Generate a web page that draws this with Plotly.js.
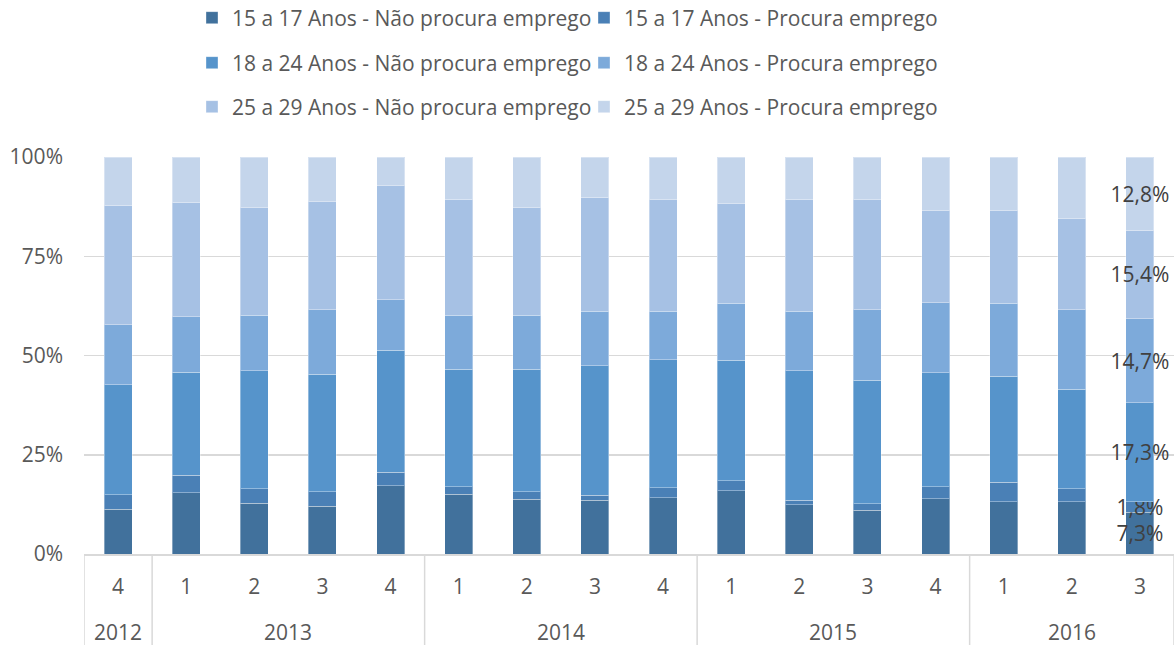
<!DOCTYPE html>
<html>
<head>
<meta charset="utf-8">
<script src="https://cdn.plot.ly/plotly-3.0.1.min.js"></script>
<style>html,body{margin:0;padding:0;background:#fff;}#chart{width:1176px;height:645px;}</style>
</head>
<body>
<div id="chart"></div>
<script>
const years    = ['2012','2013','2013','2013','2013','2014','2014','2014','2014','2015','2015','2015','2015','2016','2016','2016'];
const quarters = ['4','1','2','3','4','1','2','3','4','1','2','3','4','1','2','3'];

const seriesNames = [
  '15 a 17 Anos - Não procura emprego',
  '15 a 17 Anos - Procura emprego',
  '18 a 24 Anos - Não procura emprego',
  '18 a 24 Anos - Procura emprego',
  '25 a 29 Anos - Não procura emprego',
  '25 a 29 Anos - Procura emprego'
];

const s1517Nao = [11.3,15.4,12.8,12.0,17.2,15.0,13.8,13.6,14.2,15.9,12.4,11.0,13.9,13.2,13.2,7.3];
const s1517Pro = [3.6,4.4,3.7,3.7,3.4,2.0,1.9,1.2,2.5,2.6,1.2,1.6,3.1,4.9,3.2,1.8];
const s1824Nao = [27.7,26.0,29.7,29.6,30.7,29.5,30.9,32.6,32.2,30.3,32.6,31.2,28.6,26.7,25.1,17.3];
const s1824Pro = [15.1,14.0,14.0,16.2,12.7,13.7,13.6,13.8,12.2,14.4,15.0,17.7,17.7,18.3,20.0,14.7];
const s2529Nao = [30.2,28.8,27.0,27.2,28.7,29.2,27.0,28.7,28.1,25.0,28.1,27.7,23.1,23.4,22.9,15.4];
const s2529Pro = [12.1,11.4,12.8,11.3,7.3,10.6,12.8,10.1,10.8,11.8,10.7,10.8,13.6,13.5,15.6,12.8];

const yTickVals = [0, 25, 50, 75, 100];
const yTickText = ['0%', '25%', '50%', '75%', '100%'];

const seriesValues = [s1517Nao, s1517Pro, s1824Nao, s1824Pro, s2529Nao, s2529Pro];
const colors = ['#41719C','#4A80B6','#5694CB','#7DAADA','#A6C1E4','#C4D5EB'];
const legendIds = ['legend','legend','legend2','legend2','legend3','legend3'];

const FONT = 'Open Sans, Segoe UI, sans-serif';
const GRAY = '#595959';
const LINE = '#d9d9d9';
const last = quarters.length - 1;
const idx = quarters.map((q, i) => i);

const traces = seriesValues.map((vals, k) => ({
  type: 'bar',
  name: seriesNames[k],
  x: idx,
  y: vals,
  marker: {color: colors[k], line: {color: 'rgba(255,255,255,0.35)', width: 1}},
  text: vals.map((v, i) => i === last ? v.toFixed(1).replace('.', ',') + '%' : ''),
  textposition: 'inside',
  insidetextanchor: 'middle',
  constraintext: 'none',
  textangle: 0,
  textfont: {family: FONT, size: 21, color: '#404040'},
  legend: legendIds[k],
  hoverinfo: 'skip',
  cliponaxis: false
}));

// year groups derived from the years array
const groups = [];
years.forEach((y, i) => {
  if (!groups.length || groups[groups.length - 1].year !== y) groups.push({year: y, start: i, end: i});
  else groups[groups.length - 1].end = i;
});

const PLOT_H = 645 - 157 - 91;
const shapes = groups.map(g => ({
  type: 'line', xref: 'x', yref: 'paper',
  x0: g.start - 0.5, x1: g.start - 0.5, y0: 0, y1: -91 / PLOT_H,
  line: {color: LINE, width: 1.5}
}));
shapes.push({
  type: 'line', xref: 'x', yref: 'paper',
  x0: last + 0.5, x1: last + 0.5, y0: 0, y1: -91 / PLOT_H,
  line: {color: LINE, width: 1.5}
});

const annotations = groups.map(g => ({
  x: (g.start + g.end) / 2, xref: 'x',
  y: -(632 - 554) / PLOT_H, yref: 'paper',
  text: g.year, showarrow: false,
  xanchor: 'center', yanchor: 'middle',
  font: {family: FONT, size: 21, color: GRAY}
}));

function legendAt(ypx) {
  return {
    orientation: 'h',
    xref: 'container', yref: 'container',
    x: 192/1176, y: 1 - ypx/645,
    xanchor: 'left', yanchor: 'middle',
    entrywidth: 347, entrywidthmode: 'pixels',
    font: {family: FONT, size: 21, color: GRAY},
    bgcolor: 'rgba(0,0,0,0)',
    traceorder: 'normal'
  };
}

const layout = {
  width: 1176, height: 645,
  paper_bgcolor: '#ffffff', plot_bgcolor: '#ffffff',
  margin: {l: 84, r: 2, t: 157, b: 91, pad: 0},
  barmode: 'stack',
  barnorm: 'percent',
  bargap: 0.59,
  font: {family: FONT, size: 21, color: GRAY},
  showlegend: true,
  legend: legendAt(18),
  legend2: legendAt(63),
  legend3: legendAt(107),
  shapes: shapes,
  annotations: annotations,
  xaxis: {
    type: 'linear',
    range: [-0.5, last + 0.5],
    tickvals: idx,
    ticktext: quarters,
    showgrid: false,
    showline: true, linecolor: LINE, linewidth: 1.5,
    ticks: '',
    tickfont: {family: FONT, size: 21, color: GRAY},
    ticklabelstandoff: 13,
    zeroline: false
  },
  yaxis: {
    range: [0, 100],
    tickvals: yTickVals,
    ticktext: yTickText,
    showgrid: true, gridcolor: LINE, gridwidth: 1.5,
    zeroline: false, showline: false, ticks: '',
    tickfont: {family: FONT, size: 21, color: GRAY},
    ticklabelstandoff: 20
  }
};

Plotly.newPlot('chart', traces, layout, {staticPlot: true, displayModeBar: false});
</script>
</body>
</html>
